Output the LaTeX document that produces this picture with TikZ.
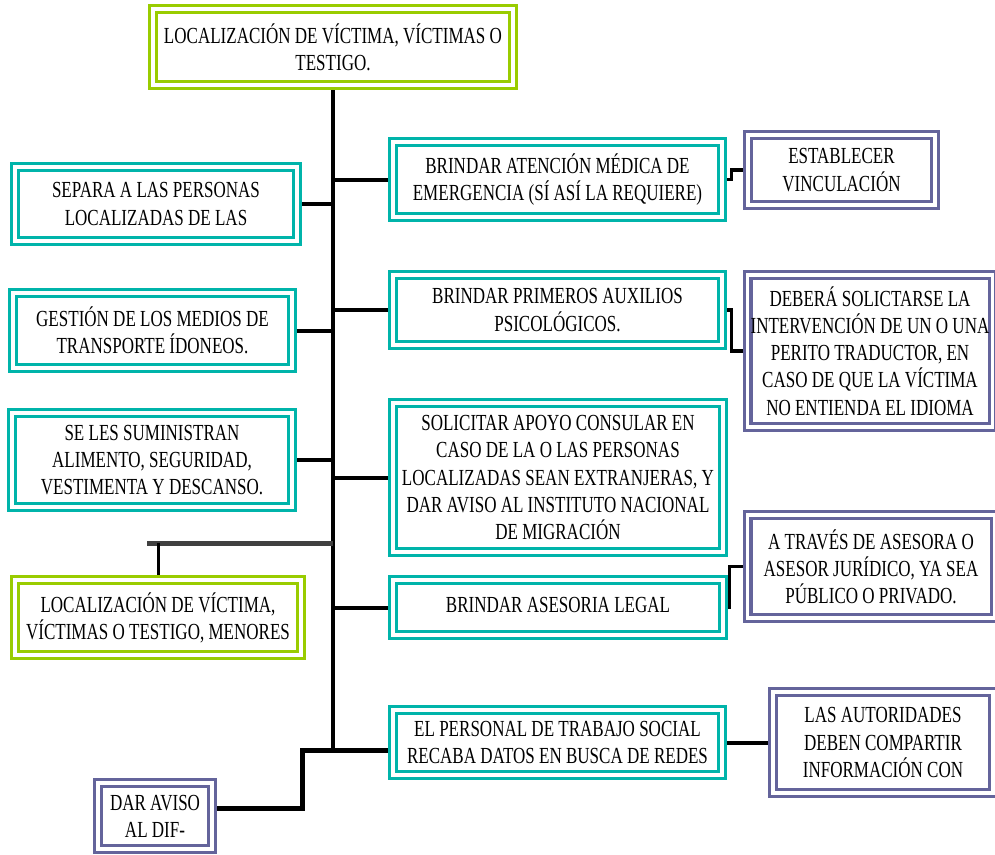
\documentclass[tikz,border=0pt]{standalone}
\usepackage{fontspec}
\setmainfont{Liberation Serif}[FakeStretch=0.74]
\usepackage{xcolor}
\usepackage{tikz}
\usetikzlibrary{positioning,calc,backgrounds}
\definecolor{boxgreen}{RGB}{153,204,0}
\definecolor{boxteal}{RGB}{0,180,170}
\definecolor{boxpurple}{RGB}{100,100,155}
\definecolor{bargray}{RGB}{64,64,64}

\begin{document}
\begin{tikzpicture}[
    x=1pt, y=-1pt,
    box/.style={rectangle, double=white, line width=3.3pt, double distance=3.4pt, fill=white, align=center, inner sep=1pt, font=\fontsize{23}{27.2}\selectfont},
    greenbox/.style={box, draw=boxgreen},
    tealbox/.style={box, draw=boxteal},
    purplebox/.style={box, draw=boxpurple},
    conn/.style={-, black, line width=4pt},
    bar/.style={-, bargray, line width=5pt}
]
    \useasboundingbox (0,0) rectangle (995,854);

    % Main box
    \node[greenbox, minimum width=360, minimum height=76] (loc) at (333,47) {LOCALIZACIÓN DE VÍCTIMA, VÍCTIMAS O\\TESTIGO.};

    % Left column
    \node[tealbox, minimum width=282, minimum height=74] (separa) at (156,204) {SEPARA A LAS PERSONAS\\LOCALIZADAS DE LAS};
    \node[tealbox, minimum width=279, minimum height=75] (gestion) at (152.5,330.5) {GESTIÓN DE LOS MEDIOS DE\\TRANSPORTE ÍDONEOS.};
    \node[tealbox, minimum width=280, minimum height=94] (sumin) at (152,460) {SE LES SUMINISTRAN\\ALIMENTO, SEGURIDAD,\\VESTIMENTA Y DESCANSO.};
    \node[greenbox, minimum width=286, minimum height=75] (menores) at (158,617.5) {LOCALIZACIÓN DE VÍCTIMA,\\VÍCTIMAS O TESTIGO, MENORES};
    \node[purplebox, minimum width=114, minimum height=66] (dif) at (155,816) {DAR AVISO\\AL DIF-};

    % Middle column
    \node[tealbox, minimum width=329, minimum height=75] (atencion) at (557.5,179.5) {BRINDAR ATENCIÓN MÉDICA DE\\EMERGENCIA (SÍ ASÍ LA REQUIERE)};
    \node[tealbox, minimum width=329, minimum height=70] (primeros) at (557.5,310) {BRINDAR PRIMEROS AUXILIOS\\PSICOLÓGICOS.};
    \node[tealbox, minimum width=330, minimum height=149] (solicitar) at (558,477.5) {SOLICITAR APOYO CONSULAR EN\\CASO DE LA O LAS PERSONAS\\LOCALIZADAS SEAN EXTRANJERAS, Y\\DAR AVISO AL INSTITUTO NACIONAL\\DE MIGRACIÓN};
    \node[tealbox, minimum width=330, minimum height=55] (asesoria) at (558,607.5) {\raisebox{6pt}{BRINDAR ASESORIA LEGAL}};
    \node[tealbox, minimum width=329, minimum height=65] (personal) at (557.5,742.5) {EL PERSONAL DE TRABAJO SOCIAL\\RECABA DATOS EN BUSCA DE REDES};

    % Right column
    \node[purplebox, minimum width=187, minimum height=70] (establecer) at (841.5,170) {ESTABLECER\\VINCULACIÓN};
    \node[purplebox, minimum width=245, minimum height=152] (debera) at (870,351) {DEBERÁ SOLICTARSE LA\\INTERVENCIÓN DE UN O UNA\\PERITO TRADUCTOR, EN\\CASO DE QUE LA VÍCTIMA\\NO ENTIENDA EL IDIOMA};
    \node[purplebox, minimum width=247, minimum height=103] (atraves) at (871,566.5) {A TRAVÉS DE ASESORA O\\ASESOR JURÍDICO, YA SEA\\PÚBLICO O PRIVADO.};
    \node[purplebox, minimum width=220, minimum height=101] (autoridades) at (883,742.5) {LAS AUTORIDADES\\DEBEN COMPARTIR\\INFORMACIÓN CON};

    % Connections
    \coordinate (trunkend) at (333,750);
    \coordinate (knee) at (302,750);
    \coordinate (barL) at (147,543);
    \begin{scope}[on background layer]
        \draw[conn] (loc.south) -- (trunkend);
        \foreach \m in {separa,gestion,sumin}
            \draw[conn] (\m.east) -- (\m.east -| loc.south);
        \foreach \m in {atencion,primeros,solicitar,asesoria}
            \draw[conn] (\m.west -| loc.south) -- (\m.west);
        \draw[bar] (barL) -- (barL -| loc.south);
        \draw[conn, line width=3pt] (menores.north |- barL) -- (menores.north);
        \draw[conn, line width=5pt] ([yshift=8pt]dif.east) -| (knee) -- (knee -| personal.west);
        \draw[conn, line width=3.5pt] (atencion.east) -- ++(8,0) |- (establecer.west);
        \draw[conn, line width=3.5pt] (primeros.east) -- ++(8,0) |- (debera.west);
        \draw[conn, line width=3.5pt] (asesoria.east) -- ++(5,0) |- (atraves.west);
        \draw[conn] (personal.east) -- (autoridades.west);
    \end{scope}
\end{tikzpicture}
\end{document}
